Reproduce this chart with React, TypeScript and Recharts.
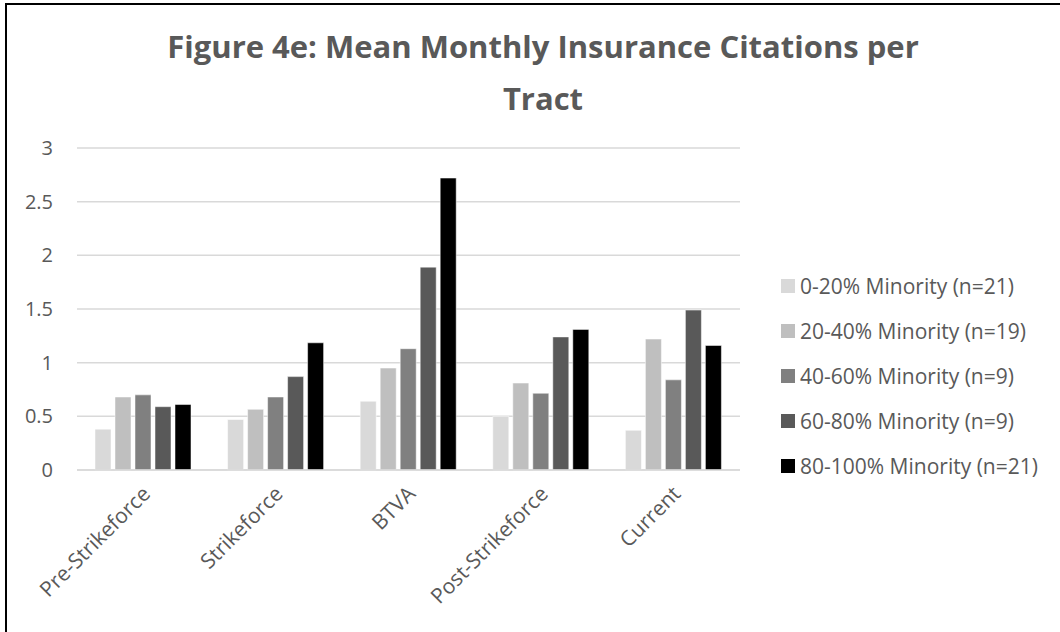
import React from 'react';
import { BarChart, Bar, XAxis, YAxis, CartesianGrid } from 'recharts';

const periods = ['Pre-Strikeforce', 'Strikeforce', 'BTVA', 'Post-Strikeforce', 'Current'];

const minority0to20 = [0.38, 0.47, 0.64, 0.5, 0.37];
const minority20to40 = [0.68, 0.565, 0.95, 0.81, 1.22];
const minority40to60 = [0.7, 0.68, 1.13, 0.715, 0.84];
const minority60to80 = [0.59, 0.87, 1.89, 1.24, 1.49];
const minority80to100 = [0.61, 1.185, 2.72, 1.31, 1.16];

const seriesNames = [
  '0-20% Minority (n=21)',
  '20-40% Minority (n=19)',
  '40-60% Minority (n=9)',
  '60-80% Minority (n=9)',
  '80-100% Minority (n=21)',
];

const yTicks = [0, 0.5, 1, 1.5, 2, 2.5, 3];

const colors = ['#d9d9d9', '#bfbfbf', '#808080', '#595959', '#000000'];

const data = periods.map((p, i) => ({
  period: p,
  s0: minority0to20[i],
  s1: minority20to40[i],
  s2: minority40to60[i],
  s3: minority60to80[i],
  s4: minority80to100[i],
}));

const font = '"Open Sans", sans-serif';
const textColor = '#595959';

const AngledTick = (props: any) => {
  const { x, y, payload } = props;
  return (
    <g transform={`translate(${x + 3},${y + 12})`}>
      <text
        x={0}
        y={0}
        dy="0.35em"
        textAnchor="end"
        transform="rotate(-45)"
        fill={textColor}
        fontSize={21}
        fontFamily={font}
      >
        {payload.value}
      </text>
    </g>
  );
};

// legend drawn outside the chart so it doesn't shrink the plot
const LegendList = () => (
  <div style={{ fontFamily: font, fontSize: 21, color: textColor }}>
    {seriesNames.map((name, i) => (
      <div key={name} style={{ display: 'flex', alignItems: 'center', height: 45 }}>
        <span
          style={{
            display: 'inline-block',
            width: 14,
            height: 14,
            background: colors[i],
            marginRight: 5,
          }}
        />
        <span style={{ whiteSpace: 'nowrap' }}>{name}</span>
      </div>
    ))}
  </div>
);

const App: React.FC = () => {
  return (
    <div
      style={{
        position: 'fixed',
        left: 0,
        top: 0,
        width: 1060,
        height: 632,
        background: '#fff',
        overflow: 'hidden',
      }}
    >
      <div
        style={{
          position: 'absolute',
          left: 5,
          top: 3,
          width: 1060,
          height: 640,
          borderLeft: '2.5px solid #000',
          borderTop: '2.5px solid #000',
        }}
      />
      <div
        style={{
          position: 'absolute',
          left: 0,
          width: 1086,
          top: 20,
          textAlign: 'center',
          fontFamily: font,
          fontWeight: 700,
          fontSize: 31,
          lineHeight: '52px',
          color: textColor,
        }}
      >
        Figure 4e: Mean Monthly Insurance Citations per
        <br />
        Tract
      </div>
      <div style={{ position: 'absolute', left: 0, top: 0 }}>
        <BarChart
          width={1060}
          height={632}
          data={data}
          margin={{ top: 148, right: 320, bottom: 0, left: 0 }}
          barSize={16}
          barGap={4}
        >
          <CartesianGrid vertical={false} stroke="#d9d9d9" strokeWidth={1.5} />
          <XAxis
            dataKey="period"
            height={162}
            interval={0}
            tick={<AngledTick />}
            tickLine={false}
            axisLine={{ stroke: '#d9d9d9', strokeWidth: 1.5 }}
          />
          <YAxis
            width={77}
            domain={[0, 3]}
            ticks={yTicks}
            interval={0}
            tickLine={false}
            axisLine={false}
            tickSize={0}
            tickMargin={24}
            tick={{ fill: textColor, fontSize: 20, fontFamily: font }}
          />
          {['s0', 's1', 's2', 's3', 's4'].map((k, i) => (
            <Bar
              key={k}
              dataKey={k}
              name={seriesNames[i]}
              fill={colors[i]}
              stroke="#ffffff"
              strokeWidth={0.5}
              isAnimationActive={false}
            />
          ))}
        </BarChart>
      </div>
      <div style={{ position: 'absolute', left: 781, top: 263 }}>
        <LegendList />
      </div>
    </div>
  );
};

export default App;
